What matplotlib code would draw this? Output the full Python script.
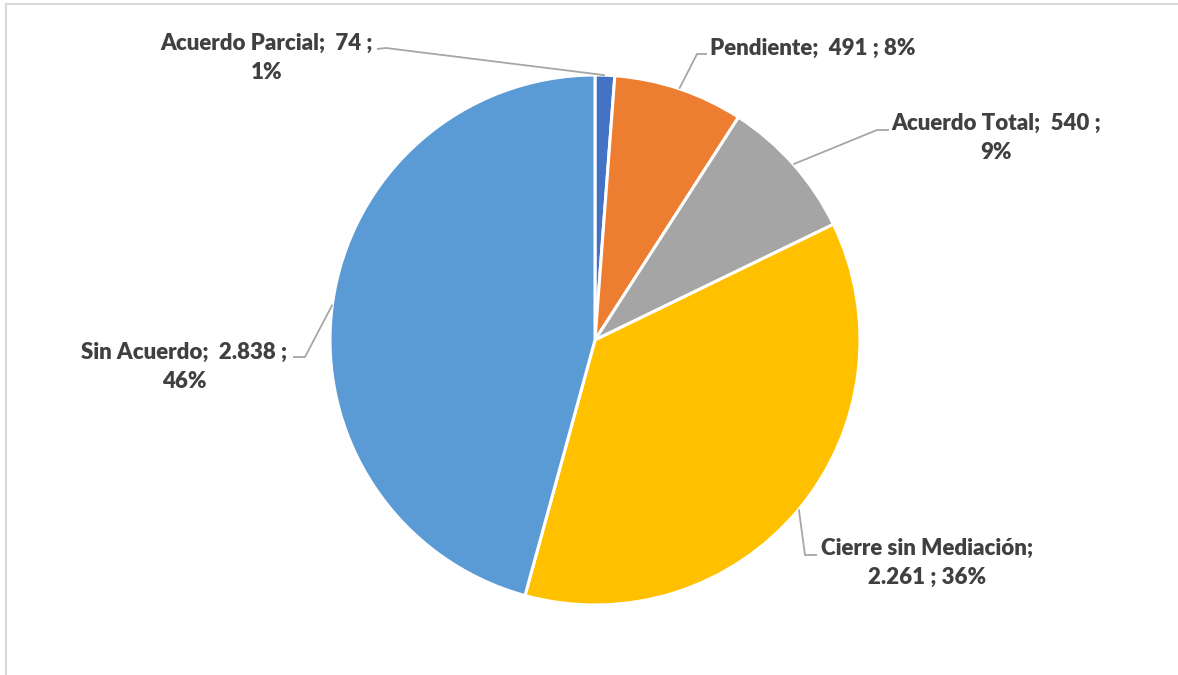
import numpy as np
import matplotlib
matplotlib.use("Agg")
import matplotlib.pyplot as plt

# ---- data ----
categories = ["Acuerdo Parcial", "Pendiente", "Acuerdo Total", "Cierre sin Mediación", "Sin Acuerdo"]
values = [74, 491, 540, 2261, 2838]
value_labels = ["74", "491", "540", "2.261", "2.838"]
pct_labels = ["1%", "8%", "9%", "36%", "46%"]
colors = ["#4472C4", "#ED7D31", "#A5A5A5", "#FFC000", "#5B9BD5"]

# ---- layout (pixel coordinates, y from top) ----
W, H = 1178, 675
CX, CY, R = 595, 340, 265
label_text = [
    "Acuerdo Parcial;  74 ;\n1%",
    "Pendiente;  491 ; 8%",
    "Acuerdo Total;  540 ;\n9%",
    "Cierre sin Mediación;\n2.261 ; 36%",
    "Sin Acuerdo;  2.838 ;\n46%",
]
label_pos = [(267, 58, "center"), (710, 48, "left"), (996, 138, "center"),
             (927, 563, "center"), (184, 367, "center")]
# leader line: (text-end point, elbow point)
leader = [((377, 49), (386, 48)), ((707, 54), (697, 54)), ((889, 130), (877, 130)),
          ((817, 555), (805, 555)), ((293, 357), (305, 357))]

plt.rcParams['font.family'] = ['Lato', 'DejaVu Sans']
fig = plt.figure(figsize=(W / 100, H / 100), dpi=100)
ax = fig.add_axes([0, 0, 1, 1])

def fy(y):
    return H - y

wedges, _ = ax.pie(values, colors=colors, startangle=90, counterclock=False,
                   center=(CX, fy(CY)), radius=R,
                   wedgeprops=dict(edgecolor="white", linewidth=2.2))
ax.set_xlim(0, W)
ax.set_ylim(0, H)
ax.set_aspect('equal')
ax.axis('off')

# anchors at mid-angle of each wedge
total = sum(values)
cum = np.cumsum([0] + values)
txtcol = "#404040"
for i, name in enumerate(categories):
    mid = (cum[i] + values[i] / 2) / total
    ang = np.deg2rad(90 - 360 * mid)
    ex, ey = CX + R * np.cos(ang), fy(CY) + R * np.sin(ang)
    (tx, ty), (bx, by) = leader[i]
    ax.plot([tx, bx, ex], [fy(ty), fy(by), ey], color="#A6A6A6", lw=1.3,
            solid_capstyle='butt', zorder=1)
    x, y, ha = label_pos[i]
    ax.text(x, fy(y), label_text[i], ha=ha, va="center", fontsize=16,
            fontweight="heavy", color=txtcol, linespacing=1.5)

# chart border (top and left visible)
ax.plot([6, W], [fy(4), fy(4)], color="#D9D9D9", lw=1.5)
ax.plot([6, 6], [fy(4), 0], color="#D9D9D9", lw=1.5)

fig.savefig("out.png", dpi=100, facecolor="white")
